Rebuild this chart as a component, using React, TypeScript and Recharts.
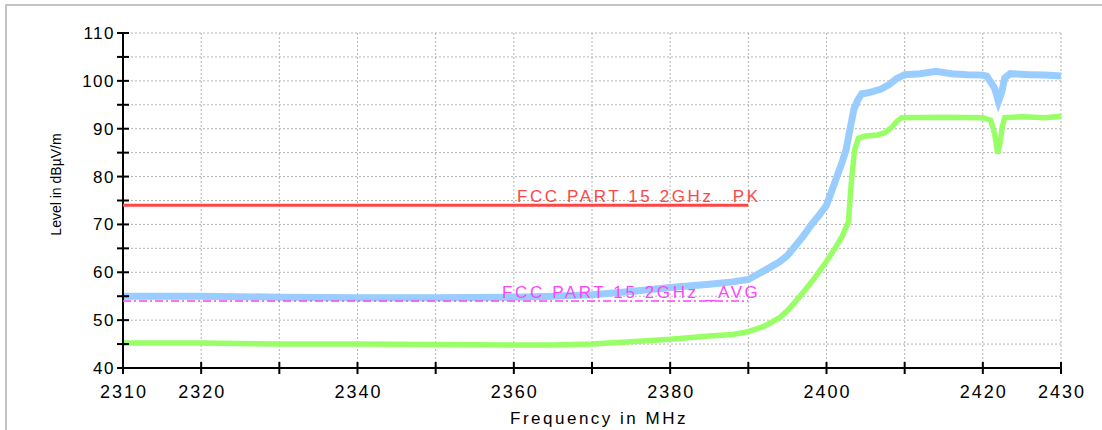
import React from 'react'
import {
  LineChart,
  Line,
  XAxis,
  YAxis,
  CartesianGrid,
  ReferenceLine,
  ReferenceDot,
} from 'recharts'

// peak trace (blue)
const peakFreq = [
  2310, 2320, 2330, 2340, 2350, 2360, 2365, 2370, 2375, 2380, 2385, 2388, 2390,
  2392, 2394, 2395, 2396, 2397, 2398, 2399, 2400, 2401, 2402, 2402.5, 2403,
  2403.5, 2404, 2404.5, 2405, 2406, 2407, 2408, 2409, 2410, 2412, 2414, 2416,
  2418, 2420, 2420.5, 2421.5, 2422, 2422.4, 2422.8, 2423.5, 2426, 2428, 2430,
]
const peakLevel = [
  55, 55, 54.8, 54.7, 54.7, 54.8, 55, 55.3, 56, 56.8, 57.5, 58, 58.5,
  60.3, 62.2, 63.5, 65.5, 67.5, 69.8, 71.8, 74, 78.5, 83, 85.6, 89.8,
  94, 96, 97.3, 97.4, 97.8, 98.3, 99.2, 100.5, 101.3, 101.5, 102, 101.5,
  101.3, 101.2, 101, 98.5, 95.7, 97.5, 100.6, 101.5, 101.3, 101.2, 101,
]

// average trace (green)
const avgFreq = [
  2310, 2320, 2330, 2340, 2350, 2360, 2365, 2370, 2375, 2380, 2385, 2388, 2390,
  2392, 2394, 2395, 2396, 2397, 2398, 2399, 2400, 2401, 2402, 2402.6, 2402.8,
  2403.2, 2403.6, 2404.1, 2405, 2406.5, 2407.5, 2408.3, 2409, 2409.6, 2415,
  2420, 2421, 2421.5, 2421.9, 2422.2, 2422.5, 2422.8, 2425, 2428, 2430,
]
const avgLevel = [
  45.2, 45.2, 45, 45, 44.9, 44.8, 44.8, 45, 45.5, 46, 46.7, 47, 47.6,
  48.7, 50.5, 52, 53.8, 55.8, 57.8, 60, 62.3, 64.8, 67.5, 69.8, 70.5,
  79.3, 85.6, 88, 88.5, 88.7, 89.2, 90.2, 91.5, 92.3, 92.4,
  92.3, 91.8, 89, 84.8, 87, 90.5, 92.3, 92.5, 92.3, 92.6,
]

// limit lines
const pkLimit = 74
const avgLimit = 54
const limitStart = 2310
const limitEnd = 2390
const pkLabel = 'FCC PART 15 2GHz _PK'
const avgLabel = 'FCC PART 15 2GHz _AVG'
const pkLabelAt = 2360.4
const avgLabelAt = 2358.5

// axes
const xTicks = [2310, 2320, 2330, 2340, 2350, 2360, 2370, 2380, 2390, 2400, 2410, 2420, 2430]
const xTickLabels = [2310, 2320, 2340, 2360, 2380, 2400, 2420, 2430]
const yTicks = [40, 45, 50, 55, 60, 65, 70, 75, 80, 85, 90, 95, 100, 105, 110]
const yTickLabels = [40, 50, 60, 70, 80, 90, 100, 110]

const FONT = '"Liberation Sans", Arial, sans-serif'

const peakData = peakFreq.map((f, i) => ({ f, v: peakLevel[i] }))
const avgData = avgFreq.map((f, i) => ({ f, v: avgLevel[i] }))

const XTick = (props: any) => {
  const { x, y, payload } = props
  const show = xTickLabels.includes(payload.value)
  return (
    <g>
      <line x1={x} x2={x} y1={y - 6} y2={y + 6} stroke="#000" strokeWidth={2} />
      {show && (
        <text x={x + 1} y={y + 30} textAnchor="middle" fontFamily={FONT} fontSize={18}
          letterSpacing={2} fill="#000">
          {payload.value}
        </text>
      )}
    </g>
  )
}

const YTick = (props: any) => {
  const { x, y, payload } = props
  const show = yTickLabels.includes(payload.value)
  return (
    <g>
      <line x1={x - 6} x2={x + 6} y1={y} y2={y} stroke="#000" strokeWidth={2} />
      {show && (
        <text x={x - 8} y={y + 6} textAnchor="end" fontFamily={FONT} fontSize={17}
          letterSpacing={1.5} fill="#000">
          {payload.value}
        </text>
      )}
    </g>
  )
}

const limitText = (text: string, color: string) => (props: any) => {
  const { viewBox } = props
  return (
    <text x={viewBox.x} y={viewBox.y - 3} fontFamily={FONT} fontSize={17}
      letterSpacing={2.6} fill={color}>
      {text}
    </text>
  )
}

const App: React.FC = () => {
  return (
    <div style={{ position: 'absolute', left: 0, top: 0, width: 1102, height: 430, background: '#fff' }}>
      <div style={{
        position: 'absolute', left: 5, top: 4, width: 1097, height: 426,
        borderTop: '2px solid #c4c4c4', borderLeft: '2px solid #c4c4c4', boxSizing: 'border-box',
      }} />
      <div style={{ position: 'absolute', left: 0, top: 0 }}>
        <LineChart width={1102} height={430} margin={{ top: 33, right: 41, left: 0, bottom: 0 }}>
          <CartesianGrid stroke="#b4b4b4" strokeDasharray="2 2" />
          <XAxis
            type="number"
            dataKey="f"
            domain={[2310, 2430]}
            ticks={xTicks}
            interval={0}
            height={62}
            tickSize={0}
            tickMargin={0}
            tick={<XTick />}
            axisLine={{ stroke: '#000', strokeWidth: 2 }}
            allowDuplicatedCategory={false}
            label={(p: any) => {
              const vb = p.viewBox
              return (
                <text x={599} y={vb.y + 56} textAnchor="middle" fontFamily={FONT}
                  fontSize={17} letterSpacing={2.5} fill="#000">
                  Frequency in MHz
                </text>
              )
            }}
          />
          <YAxis
            type="number"
            domain={[40, 110]}
            ticks={yTicks}
            interval={0}
            width={123}
            tickSize={0}
            tickMargin={0}
            tick={<YTick />}
            axisLine={{ stroke: '#000', strokeWidth: 2 }}
            label={(p: any) => {
              const vb = p.viewBox
              const cx = 56
              const cy = vb.y + vb.height / 2 - 16
              return (
                <text x={cx} y={cy} textAnchor="middle" dominantBaseline="central"
                  transform={`rotate(-90, ${cx}, ${cy})`} fontFamily={FONT} fontSize={14} fill="#000">
                  Level in dBµV/m
                </text>
              )
            }}
          />
          <Line
            data={peakData}
            dataKey="v"
            type="linear"
            stroke="#99ccff"
            strokeWidth={7}
            dot={false}
            isAnimationActive={false}
          />
          <Line
            data={avgData}
            dataKey="v"
            type="linear"
            stroke="#99ff66"
            strokeWidth={5.5}
            dot={false}
            isAnimationActive={false}
          />
          <ReferenceLine
            segment={[{ x: limitStart, y: pkLimit }, { x: limitEnd, y: pkLimit }]}
            stroke="#ff4646"
            strokeWidth={3}
            zIndex={1000}
          />
          <ReferenceLine
            segment={[{ x: limitStart, y: avgLimit }, { x: limitEnd, y: avgLimit }]}
            stroke="#ff40ff"
            strokeWidth={1.5}
            strokeDasharray="8 3 2 3"
            zIndex={1000}
          />
          <ReferenceDot x={pkLabelAt} y={pkLimit} r={0} fill="none" stroke="none"
            label={limitText(pkLabel, '#ff4646')} zIndex={1000} />
          <ReferenceDot x={avgLabelAt} y={avgLimit} r={0} fill="none" stroke="none"
            label={limitText(avgLabel, '#ff44ff')} zIndex={1000} />
        </LineChart>
      </div>
    </div>
  )
}

export default App
